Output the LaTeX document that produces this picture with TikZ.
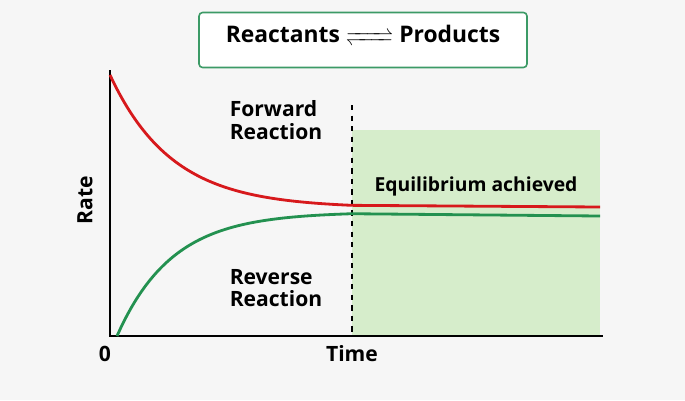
\documentclass[tikz,border=0pt]{standalone}
\usepackage{fontspec}
\usepackage{mathtools}
\setmainfont{Open Sans}
\usetikzlibrary{positioning}
\definecolor{eqgreen}{HTML}{D6EDCB}
\definecolor{fwdred}{HTML}{D7191C}
\definecolor{revgreen}{HTML}{239150}
\definecolor{boxgreen}{HTML}{3C9A66}
\tikzset{
    label/.style={font=\bfseries\fontsize{12}{13}\selectfont, align=left},
    curve/.style={line width=1.6pt, smooth},
    axis/.style={line width=0.9pt}
}
\begin{document}
\begin{tikzpicture}[x=0.02cm, y=-0.02cm]
    \fill[gray!7] (0,0) rectangle (685,400);
    \useasboundingbox (0,0) rectangle (685,400);

    % Equilibrium region
    \fill[eqgreen] (352,130) rectangle (600,336);
    \node (eqtext) [label, font=\bfseries\fontsize{11}{12}\selectfont] at (476,186) {Equilibrium achieved};

    % Title box
    \node (title) [draw=boxgreen, line width=0.9pt, rounded corners=2pt, fill=white, minimum width=6.56cm, minimum height=1.1cm, font=\bfseries\fontsize{13}{15}\selectfont] at (363,40) {Reactants $\xrightleftharpoons{\hphantom{MM}}$ Products};

    % Axes
    \coordinate (origin) at (110,336);
    \coordinate (ytop) at (110,70);
    \coordinate (xend) at (603,336);
    \draw [axis] (ytop) -- (origin) -- (xend);
    \node (zero) [label] at (105,354) {0};
    \node (time) [label] at (352,354) {Time};
    \node (rate) [label, rotate=90] at (85,200) {Rate};

    % Equilibrium marker
    \coordinate (eqtop) at (352,105);
    \coordinate (eqbot) at (352,336);
    \draw [dashed, line width=0.8pt] (eqtop) -- (eqbot);

    % Curves
    \draw [curve, fwdred] plot[domain=110:352, samples=60] (\x, {208-133*exp(-(\x-110)/62)}) -- (600,207);
    \draw [curve, revgreen] plot[domain=117:352, samples=60] (\x, {212+124*exp(-(\x-117)/55)}) -- (600,216);

    % Labels
    \node (forward) [label] at (276,120) {Forward\\Reaction};
    \node (reverse) [label] at (276,288) {Reverse\\Reaction};
\end{tikzpicture}
\end{document}
